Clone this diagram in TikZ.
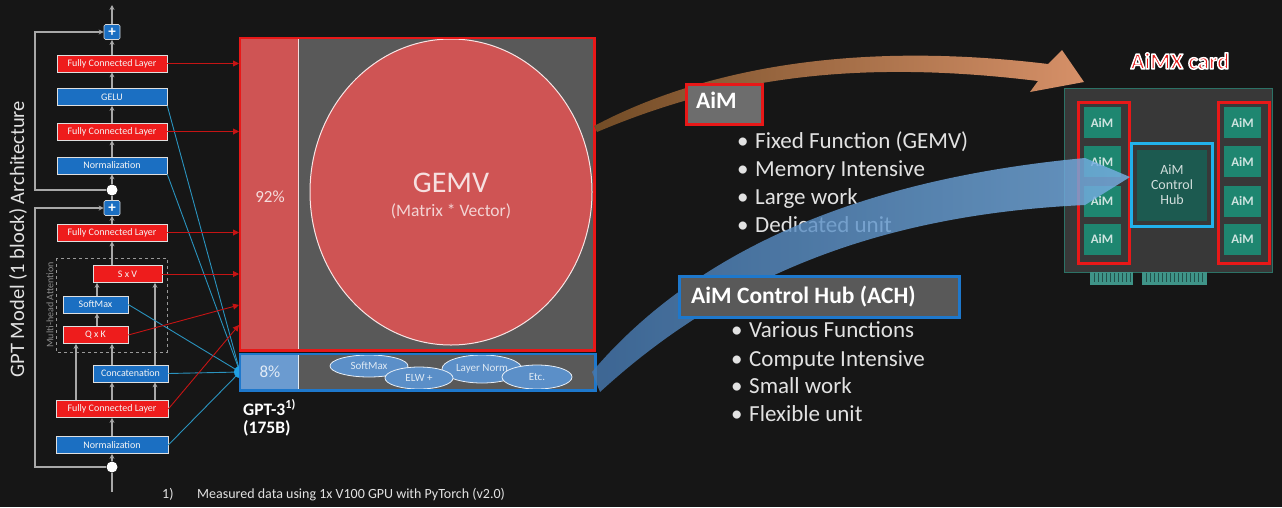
\documentclass[tikz,border=0pt]{standalone}
\usepackage{fontspec}
\setmainfont{Carlito}
\usetikzlibrary{arrows.meta,shapes.geometric,calc}

\definecolor{bg}{HTML}{161616}
\definecolor{lred}{HTML}{EE1C1C}
\definecolor{lblue}{HTML}{1B6FC2}
\definecolor{wire}{HTML}{A8A8A8}
\definecolor{panel}{HTML}{595959}
\definecolor{gemvred}{HTML}{CF5454}
\definecolor{frame}{HTML}{E81818}
\definecolor{ablue}{HTML}{1E78CC}
\definecolor{ellip}{HTML}{5B8FC8}
\definecolor{barblue}{HTML}{6B9BD0}
\definecolor{cyanwire}{HTML}{2A93BE}
\definecolor{chip}{HTML}{1E8670}
\definecolor{hubfill}{HTML}{1C5A50}
\definecolor{hubedge}{HTML}{22B2EC}
\definecolor{board}{HTML}{383838}
\definecolor{boardedge}{HTML}{2C7266}
\definecolor{pinteal}{HTML}{3F9488}
\definecolor{txt}{HTML}{E2E2E2}

\tikzset{
  fsz/.style={font=\fontsize{#1}{#1}\selectfont},
  layer/.style={minimum height=17pt, inner sep=0pt, draw=white!75!gray, line width=0.6pt,
                text=white!92!gray, fsz=10},
  redlayer/.style={layer, fill=lred},
  bluelayer/.style={layer, fill=lblue},
  addbox/.style={minimum width=16pt, minimum height=15pt, inner sep=0pt, fill=lblue,
                 draw=white!70!gray, line width=0.6pt, rounded corners=1.5pt, text=white,
                 font=\fontsize{15}{15}\selectfont\bfseries},
  junction/.style={circle, fill=white, minimum size=11pt, inner sep=0pt},
  flow/.style={draw=wire, line width=1.6pt, -{Stealth[length=5pt,width=5pt]}},
  flowplain/.style={draw=wire, line width=1.6pt},
  redlink/.style={draw=frame!85!black, line width=0.9pt, -{Triangle[length=6pt,width=6pt]}},
  bluelink/.style={draw=cyanwire, line width=0.9pt},
  opnode/.style={ellipse, fill=ellip, draw=white!85!ellip, line width=0.8pt,
                 text=white!80!ellip, fsz=11, inner sep=0pt},
  listline/.style={anchor=base west, inner sep=0pt, text=txt, fsz=23},
  chipbox/.style={fill=chip, minimum width=37pt, minimum height=31pt, inner sep=0pt,
                  text=white!78!chip, font=\fontsize{13}{13}\selectfont\bfseries},
  headlabel/.style={anchor=base west, inner sep=0pt, text=white, font=\fontsize{23.5}{23.5}\selectfont\bfseries},
}

\newcommand{\itm}[1]{\makebox[18pt][l]{•}#1}
% text painted with a white stroke round its filled glyphs
\newcommand{\outlined}[1]{\special{pdf:literal direct 1 1 1 RG 1.5 w 1 j 2 Tr}#1\special{pdf:literal direct 0 Tr}}

\begin{document}
\begin{tikzpicture}[x=1pt,y=-1pt]
  % canvas
  \fill[bg] (0,0) rectangle (1282,507);
  \useasboundingbox (0,0) rectangle (1282,507);

  % ---------- GPT block ----------
  \node[rotate=90, text=txt, fsz=20.5] (title) at (18,239) {GPT Model (1 block) Architecture};

  \node[addbox] (add2) at (112,32) {+};
  \node[redlayer, minimum width=110pt] (fc4) at (112,63.5) {Fully Connected Layer};
  \node[bluelayer, minimum width=110pt] (gelu) at (112,97) {GELU};
  \node[redlayer, minimum width=110pt] (fc3) at (112,131.5) {Fully Connected Layer};
  \node[bluelayer, minimum width=110pt] (norm2) at (112,165.5) {Normalization};
  \node[junction] (j2) at (112,190) {};
  \node[addbox] (add1) at (112,208) {+};
  \node[redlayer, minimum width=110pt] (fc2) at (112,232.5) {Fully Connected Layer};
  \node[redlayer, minimum width=69pt] (sv) at (127.5,274) {S x V};
  \node[bluelayer, minimum width=65pt] (smax) at (95.5,304.5) {SoftMax};
  \node[redlayer, minimum width=65pt] (qk) at (95.5,335) {Q x K};
  \node[bluelayer, minimum width=75pt] (concat) at (130.5,373.5) {Concatenation};
  \node[redlayer, minimum width=112pt] (fc1) at (112,409) {Fully Connected Layer};
  \node[bluelayer, minimum width=112pt] (norm1) at (112,445) {Normalization};
  \node[junction] (j1) at (112,467) {};
  \coordinate (inlet) at (112,492);
  \coordinate (outlet) at (112,5);

  % attention group
  \draw[dashed, draw=gray!80, line width=0.7pt] (56,258) rectangle (167,352);
  \node[rotate=90, text=gray!90, fsz=10] (mha) at (50,305) {Multi-head Attention};

  % residual paths
  \coordinate (lane) at (35,0);
  \draw[flow] (j2.west) -- (j2.west -| lane) |- (add2.west);
  \draw[flow] (j1.west) -- (j1.west -| lane) |- (add1.west);

  % data flow
  \coordinate (xa) at (76,0);
  \coordinate (xb) at (112,0);
  \coordinate (xc) at (155,0);
  \coordinate (xs) at (97,0);
  \draw[flowplain] (inlet) -- (j1.south);
  \draw[flow] (j1.north) -- (norm1.south);
  \draw[flow] (norm1.north) -- (fc1.south);
  \draw[flow] (fc1.north -| xa) -- (qk.south -| xa);
  \draw[flow] (fc1.north -| xb) -- (concat.south -| xb);
  \draw[flow] (fc1.north -| xc) -- (concat.south -| xc);
  \draw[flow] (concat.north -| xb) -- (qk.south -| xb);
  \draw[flow] (concat.north -| xc) -- (sv.south -| xc);
  \draw[flow] (qk.north -| xs) -- (smax.south -| xs);
  \draw[flow] (smax.north -| xs) -- (sv.south -| xs);
  \draw[flow] (sv.north -| xb) -- (fc2.south);
  \draw[flow] (fc2.north) -- (add1.south);
  \draw[flowplain] (add1.north) -- (j2.south);
  \draw[flow] (j2.north) -- (norm2.south);
  \draw[flow] (norm2.north) -- (fc3.south);
  \draw[flow] (fc3.north) -- (gelu.south);
  \draw[flow] (gelu.north) -- (fc4.south);
  \draw[flow] (fc4.north) -- (add2.south);
  \draw[flow] (add2.north) -- (outlet);

  % links of the non-GEMV layers
  \coordinate (hubc) at (240,372);
  \draw[bluelink] (gelu.south east) -- (hubc);
  \draw[bluelink] (norm2.south east) -- (hubc);
  \draw[bluelink] (smax.east) -- (hubc);
  \draw[bluelink] (concat.east) -- (hubc);
  \draw[bluelink] (norm1.east) -- (hubc);
  \node[circle, fill=hubedge!70!ablue, minimum size=12pt, inner sep=0pt] (hub) at (hubc) {};

  % ---------- GEMV share ----------
  \node[fill=panel, minimum width=354pt, minimum height=312pt, anchor=north west, inner sep=0pt] (gemvpanel) at (240,38) {};
  \node[fill=gemvred, minimum width=58pt, minimum height=312pt, anchor=north west, inner sep=0pt] (bar92) at (240,38) {};
  \draw[white!80!gemvred, line width=1.5pt] (bar92.north east) -- (bar92.south east);
  \node[text=white!80!gemvred, fsz=17] (p92) at (270,197) {92\%};
  \node[ellipse, fill=gemvred, draw=white!85!gemvred, line width=1pt, minimum width=282pt,
        minimum height=306pt, inner sep=0pt] (gemv) at (451,192) {};
  \node[text=white!82!gemvred, fsz=30] (gemvt) at (451,183) {GEMV};
  \node[text=white!75!gemvred, fsz=17.5] (mv) at (451,211) {(Matrix * Vector)};
  \draw[frame, line width=2.5pt] (gemvpanel.north west) rectangle (gemvpanel.south east);

  \node[fill=panel, minimum width=355pt, minimum height=36pt, anchor=north west, inner sep=0pt] (opspanel) at (240,354) {};
  \node[fill=barblue, minimum width=58pt, minimum height=36pt, anchor=north west, inner sep=0pt] (bar8) at (240,354) {};
  \draw[white!80!barblue, line width=1.5pt] (bar8.north east) -- (bar8.south east);
  \node[text=white!80!barblue, fsz=17] (p8) at (270,372) {8\%};
  \node[opnode, minimum width=78pt, minimum height=22pt] (opsm) at (369,366) {SoftMax};
  \node[opnode, minimum width=80pt, minimum height=28pt] (opln) at (482,369) {Layer Norm};
  \node[opnode, minimum width=68pt, minimum height=22pt] (opelw) at (419,378) {ELW +};
  \node[opnode, minimum width=70pt, minimum height=24pt] (opetc) at (537,377) {Etc.};
  \draw[ablue, line width=2.5pt] (opspanel.north west) rectangle (opspanel.south east);

  % GEMV-layer links
  \coordinate (t1) at (239,63.5);
  \coordinate (t2) at (239,131.5);
  \coordinate (t3) at (239,232.5);
  \coordinate (t4) at (239,274);
  \coordinate (t5) at (239,305);
  \coordinate (t6) at (239,325);
  \draw[redlink] (fc4.east) -- (t1);
  \draw[redlink] (fc3.east) -- (t2);
  \draw[redlink] (fc2.east) -- (t3);
  \draw[redlink] (sv.east) -- (t4);
  \draw[redlink] (qk.east) -- (t5);
  \draw[redlink] (fc1.east) -- (t6);

  \node[anchor=base west, inner sep=0pt, text=white, font=\fontsize{17.5}{17.5}\selectfont\bfseries] (gpt) at (243,415) {GPT-3\textsuperscript{1)}};
  \node[anchor=base west, inner sep=0pt, text=white, font=\fontsize{17.5}{17.5}\selectfont\bfseries] (size) at (243,433) {(175B)};

  \node[anchor=base west, inner sep=0pt, text=txt, fsz=14] (fnmark) at (162,498) {1)};
  \node[anchor=base west, inner sep=0pt, text=txt, fsz=14] (fn) at (197,498) {Measured data using 1x V100 GPU with PyTorch (v2.0)};

  % ---------- AiM list ----------
  \node[listline] (a1) at (737,148) {\itm{Fixed Function (GEMV)}};
  \node[listline] (a2) at (737,176) {\itm{Memory Intensive}};
  \node[listline] (a3) at (737,204) {\itm{Large work}};
  \node[listline] (a4) at (737,232) {\itm{Dedicated unit}};

  % ---------- AiMX card ----------
  \node[fill=board, draw=boardedge, line width=1.2pt, minimum width=208pt, minimum height=184pt,
        anchor=north west, inner sep=0pt] (card) at (1064,88) {};
  % edge connector
  \fill[pinteal] (1090,272) rectangle (1133,285);
  \fill[pinteal] (1142,272) rectangle (1207,285);
  \foreach \x in {1094,1098,...,1131} {\draw[pinteal!55!black, line width=0.6pt] (\x,273) -- (\x,282);}
  \foreach \x in {1146,1150,...,1205} {\draw[pinteal!55!black, line width=0.6pt] (\x,273) -- (\x,282);}

  \node[draw=frame, line width=2.5pt, minimum width=51pt, minimum height=161pt,
        anchor=north west, inner sep=0pt] (leftbank) at (1077,101) {};
  \node[draw=frame, line width=2.5pt, minimum width=51pt, minimum height=161pt,
        anchor=north west, inner sep=0pt] (rightbank) at (1217,101) {};
  \node[chipbox] (aimL1) at (1102,122.5) {AiM};
  \node[chipbox] (aimL2) at (1102,161.5) {AiM};
  \node[chipbox] (aimL3) at (1102,201) {AiM};
  \node[chipbox] (aimL4) at (1102,239) {AiM};
  \node[chipbox] (aimR1) at (1242.5,122.5) {AiM};
  \node[chipbox] (aimR2) at (1242.5,161.5) {AiM};
  \node[chipbox] (aimR3) at (1242.5,201) {AiM};
  \node[chipbox] (aimR4) at (1242.5,239) {AiM};

  \node[fill=board, draw=hubedge, line width=3pt, minimum width=81pt, minimum height=83pt,
        inner sep=0pt] (hubring) at (1172,185) {};
  \node[fill=hubfill, minimum width=70pt, minimum height=71pt, inner sep=0pt, align=center,
        text=white!80!hubfill, font=\fontsize{14}{15}\selectfont] (hubcore) at (1172,185) {AiM\\Control\\Hub};

  \node[text=frame, font=\fontsize{23}{23}\selectfont\bfseries] (cardtitle) at (1180,61) {\outlined{AiMX card}};

  % ---------- mapping arrows ----------
  \shade[left color=brown!60!black, right color={rgb,255:red,214;green,144;blue,104}]
    (594,126) .. controls (700,70) and (850,40) .. (1048,64)
    -- (1062,50) -- (1084,82) -- (1030,92) -- (1038,81)
    .. controls (850,58) and (720,80) .. (597,132) -- cycle;
  \begin{scope}[opacity=0.82]
    \shade[left color={rgb,255:red,70;green,120;blue,175}, right color={rgb,255:red,120;green,176;blue,228}]
      (592,372) .. controls (700,245) and (870,178) .. (1085,158)
      -- (1130,177) -- (1085,205)
      .. controls (870,215) and (720,282) .. (600,392) -- cycle;
  \end{scope}

  % ---------- headings ----------
  \node[fill=white!12!panel, draw=frame, line width=2.5pt, minimum width=76pt, minimum height=40pt,
        anchor=north west, inner sep=0pt] (aimhead) at (685,83) {};
  \node[headlabel] (aimlabel) at (696,108) {AiM};

  \node[fill=panel, draw=ablue, line width=2.5pt, minimum width=280pt, minimum height=41pt,
        anchor=north west, inner sep=0pt] (achhead) at (678,275) {};
  \node[headlabel] (achlabel) at (691,303) {AiM Control Hub (ACH)};

  \node[listline] (c1) at (731,337) {\itm{Various Functions}};
  \node[listline] (c2) at (731,366) {\itm{Compute Intensive}};
  \node[listline] (c3) at (731,393) {\itm{Small work}};
  \node[listline] (c4) at (731,421) {\itm{Flexible unit}};
\end{tikzpicture}
\end{document}
